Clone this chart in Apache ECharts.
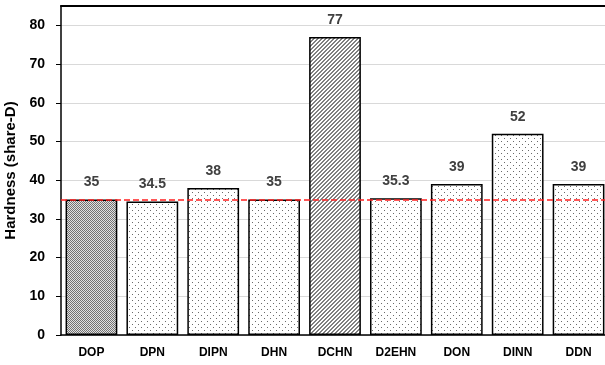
<!DOCTYPE html>
<html>
<head>
<meta charset="utf-8">
<script src="https://cdn.jsdelivr.net/npm/echarts@6/dist/echarts.min.js"></script>
<style>
  html, body { margin: 0; padding: 0; background: #fff; }
  #chart { width: 605px; height: 365px; }
</style>
</head>
<body>
<div id="chart"></div>
<script>
// categories and values
var categories = ['DOP', 'DPN', 'DIPN', 'DHN', 'DCHN', 'D2EHN', 'DON', 'DINN', 'DDN'];
var hardness = [35, 34.5, 38, 35, 77, 35.3, 39, 52, 39];
var labelText = ['35', '34.5', '38', '35', '77', '35.3', '39', '52', '39'];
var fillKind = ['dense', 'dots', 'dots', 'dots', 'hatch', 'dots', 'dots', 'dots', 'dots'];
var refValue = 35;
var yTicks = { min: 0, max: 85, interval: 10 };

// little canvas tiles for the bar fills
function makeTile(kind) {
  var c = document.createElement('canvas');
  var ctx = c.getContext('2d');
  if (kind == 'dense') {
    c.width = 2; c.height = 2;
    ctx.fillStyle = '#e2e2e2';
    ctx.fillRect(0, 0, 2, 2);
    ctx.fillStyle = '#737373';
    ctx.fillRect(0, 0, 1, 1);
    ctx.fillRect(1, 1, 1, 1);
  } else if (kind == 'hatch') {
    c.width = 4; c.height = 4;
    ctx.fillStyle = '#fff';
    ctx.fillRect(0, 0, 4, 4);
    ctx.fillStyle = '#808080';
    // diagonal going up to the right, two px thick
    for (var i = 0; i < 4; i++) {
      ctx.fillRect(3 - i, i, 1, 1);
      ctx.fillRect((4 - i) % 4, i, 1, 1);
    }
  } else {
    c.width = 6; c.height = 6;
    ctx.fillStyle = '#fff';
    ctx.fillRect(0, 0, 6, 6);
    ctx.fillStyle = '#6a6a6a';
    ctx.fillRect(0, 0, 1, 1);
    ctx.fillRect(3, 3, 1, 1);
  }
  return c;
}

var tiles = {
  dense: makeTile('dense'),
  dots: makeTile('dots'),
  hatch: makeTile('hatch')
};

var barData = hardness.map(function (v, i) {
  return {
    value: v,
    label: { formatter: labelText[i] },
    itemStyle: {
      color: { image: tiles[fillKind[i]], repeat: 'repeat' }
    }
  };
});

var chart = echarts.init(document.getElementById('chart'), null, { renderer: 'canvas' });

var option = {
  animation: false,
  backgroundColor: '#fff',
  grid: { left: 61, right: -4, top: 6, bottom: 30, containLabel: false, outerBoundsMode: 'none' },
  xAxis: [{
    type: 'category',
    data: categories,
    axisLine: { show: true, lineStyle: { color: '#000', width: 1.5 } },
    axisTick: { show: false },
    axisLabel: {
      color: '#000',
      fontFamily: 'Liberation Sans',
      fontWeight: 'bold',
      fontSize: 12,
      margin: 12
    }
  }, {
    type: 'category',
    position: 'top',
    data: categories,
    axisLine: { show: true, lineStyle: { color: '#000', width: 2 } },
    axisTick: { show: false },
    axisLabel: { show: false }
  }],
  yAxis: {
    type: 'value',
    min: yTicks.min,
    max: yTicks.max,
    interval: yTicks.interval,
    name: 'Hardness (share-D)',
    nameLocation: 'middle',
    nameGap: 40,
    nameRotate: 90,
    nameTextStyle: {
      color: '#000',
      fontFamily: 'Liberation Sans',
      fontWeight: 'bold',
      fontSize: 15
    },
    axisLine: { show: true, lineStyle: { color: '#000', width: 1.5 } },
    axisTick: { show: true, length: 5, lineStyle: { color: '#000' } },
    axisLabel: {
      color: '#000',
      fontFamily: 'Liberation Sans',
      fontWeight: 'bold',
      fontSize: 14,
      margin: 16,
      showMaxLabel: false
    },
    splitLine: { show: true, lineStyle: { color: '#d9d9d9', width: 1 } }
  },
  series: [{
    type: 'bar',
    data: barData,
    barCategoryGap: '15%',
    itemStyle: { borderColor: '#000', borderWidth: 1.5 },
    label: {
      show: true,
      position: 'top',
      distance: 10,
      color: '#404040',
      fontFamily: 'Liberation Sans',
      fontWeight: 'bold',
      fontSize: 14
    },
    markLine: {
      silent: true,
      symbol: ['none', 'none'],
      label: { show: false },
      lineStyle: { color: '#ff2020', type: 'dashed', width: 1.5 },
      data: [{ yAxis: refValue }]
    }
  }]
};

chart.setOption(option);
</script>
</body>
</html>
